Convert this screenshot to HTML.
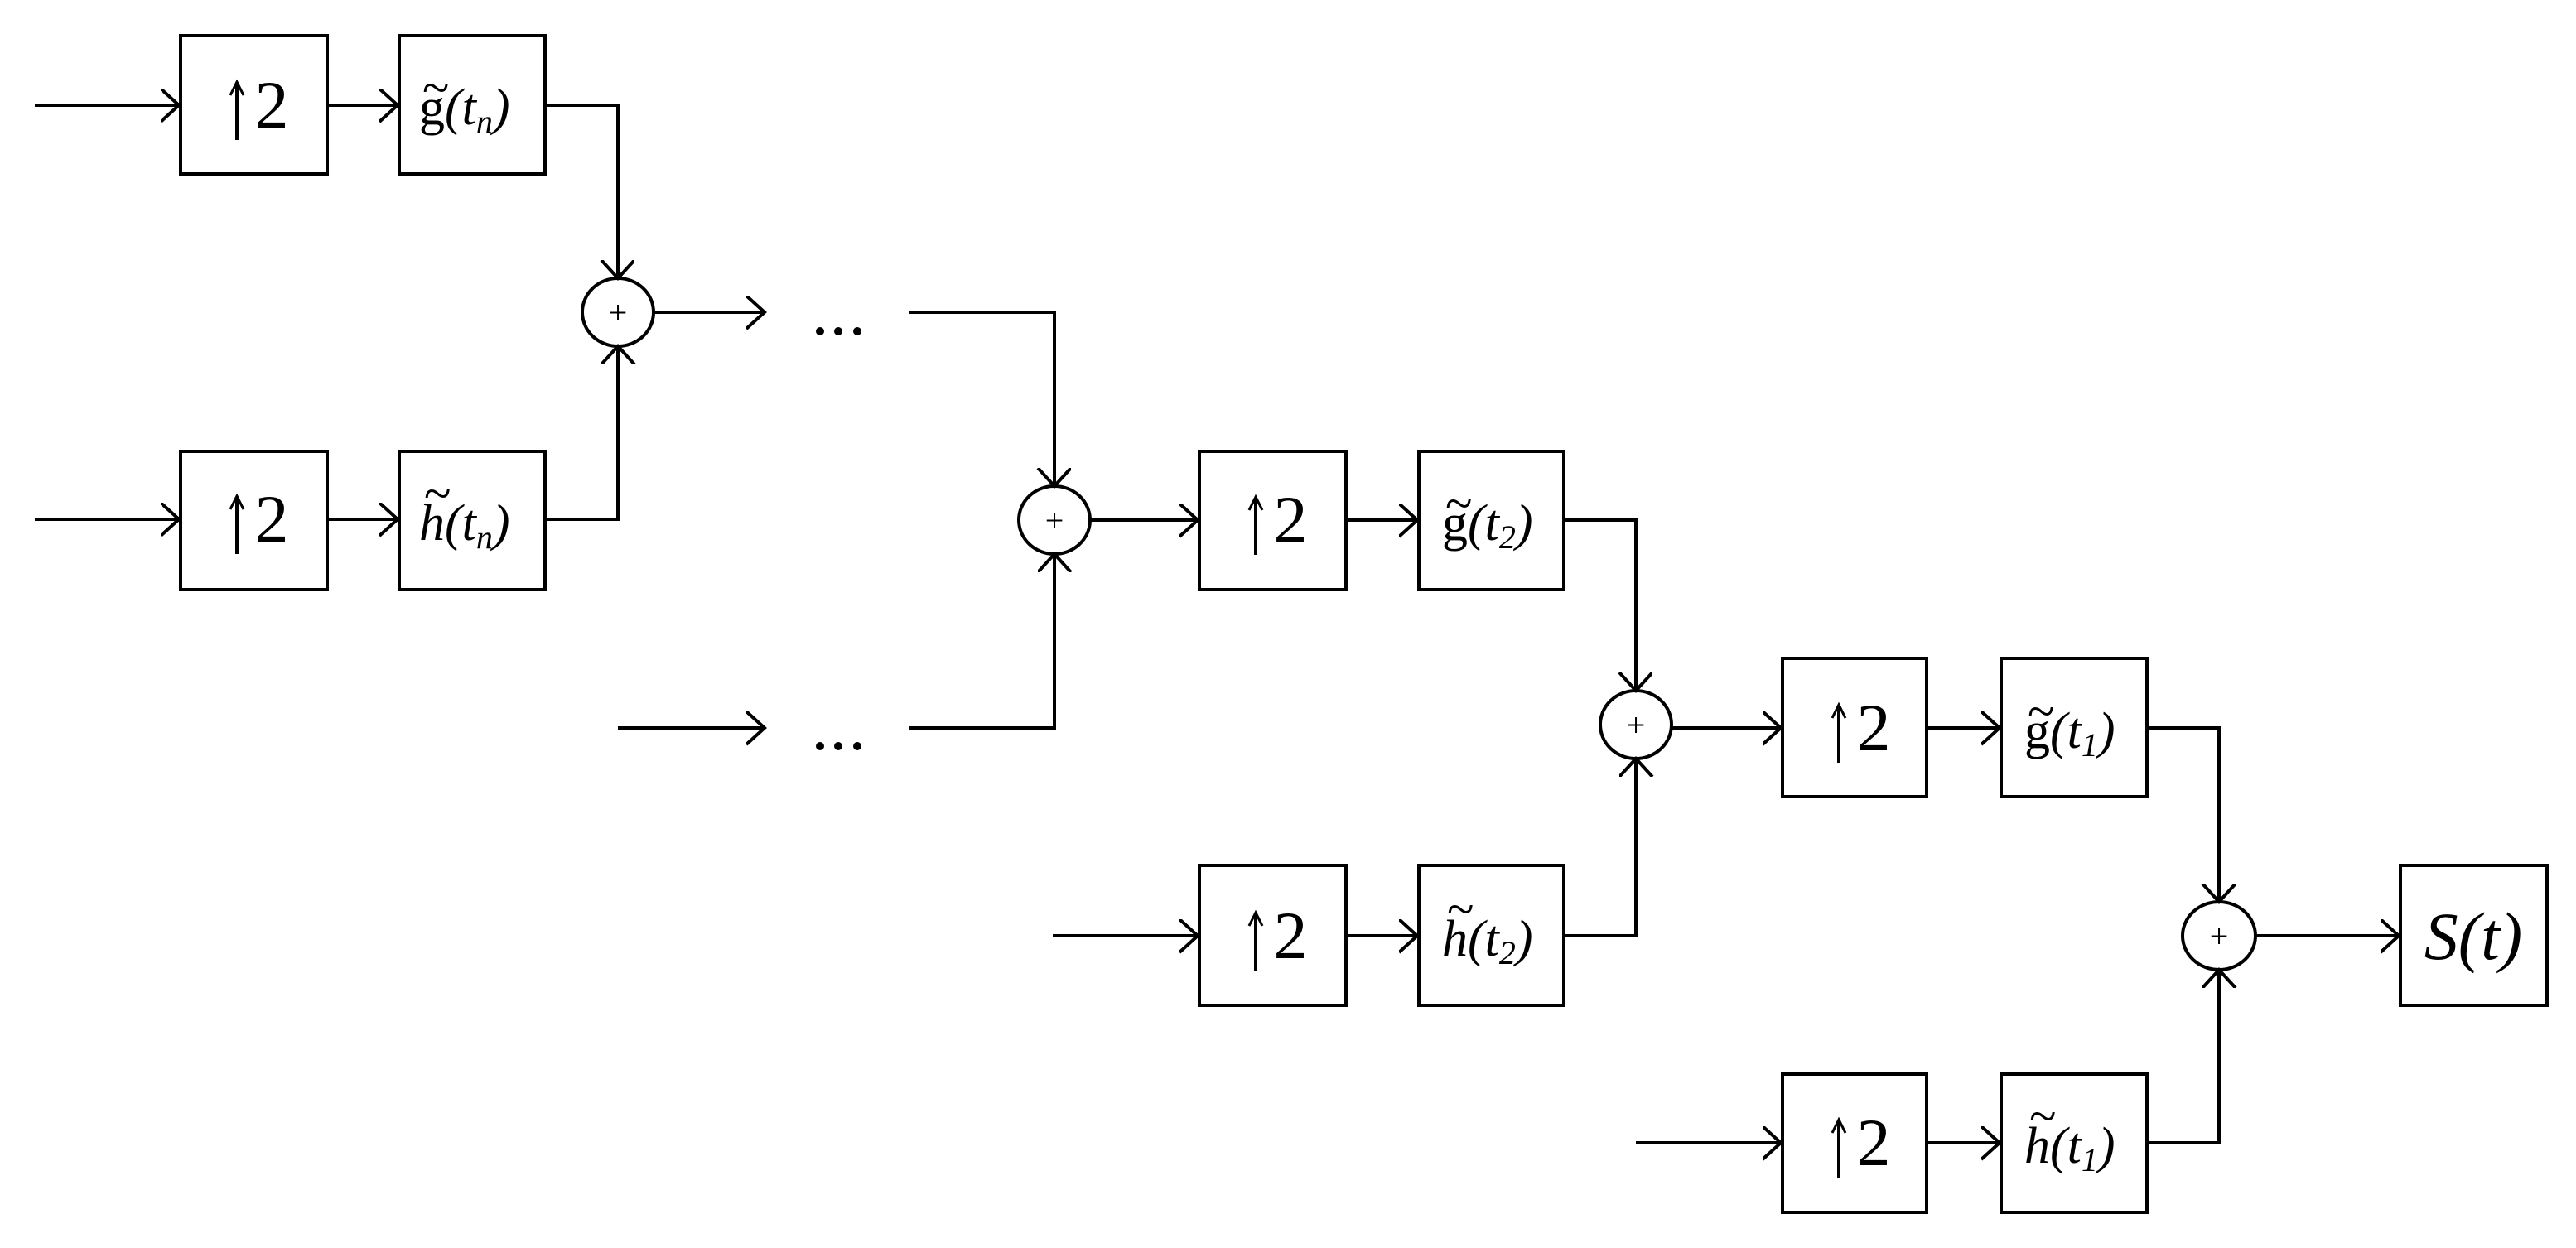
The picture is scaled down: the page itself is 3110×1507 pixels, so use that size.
<!DOCTYPE html>
<html><head><meta charset="utf-8"><style>html,body{margin:0;padding:0;background:#fff}svg{display:block}</style></head>
<body>
<svg width="3110" height="1507" viewBox="0 0 3110 1507" xmlns="http://www.w3.org/2000/svg">
<defs>
<marker id="a" markerWidth="30" markerHeight="50" refX="22" refY="20" orient="auto" markerUnits="userSpaceOnUse">
<path d="M0,0 L22,20 L0,40" fill="none" stroke="#000" stroke-width="4"/>
</marker>
<g id="up">
<line x1="68" y1="-27" x2="68" y2="42" stroke="#000" stroke-width="4"/>
<path d="M60,-12 L68,-28 L76,-12" fill="none" stroke="#000" stroke-width="3"/>
<text x="110" y="27" font-family="Liberation Serif, serif" font-size="82" text-anchor="middle" fill="#000">2</text>
</g>
</defs>
<g fill="none" stroke="#000" stroke-width="4">
<rect x="218" y="43" width="177" height="167"/>
<rect x="482" y="43" width="176" height="167"/>
<rect x="218" y="545" width="177" height="167"/>
<rect x="482" y="545" width="176" height="167"/>
<rect x="1448" y="545" width="177" height="167"/>
<rect x="1713" y="545" width="175" height="167"/>
<rect x="1448" y="1045" width="177" height="169"/>
<rect x="1713" y="1045" width="175" height="169"/>
<rect x="2152" y="795" width="174" height="167"/>
<rect x="2416" y="795" width="176" height="167"/>
<rect x="2152" y="1297" width="174" height="167"/>
<rect x="2416" y="1297" width="176" height="167"/>
<rect x="2898" y="1045" width="177" height="169"/>
<ellipse cx="746" cy="377" rx="43" ry="41"/>
<ellipse cx="1273" cy="628" rx="43" ry="41"/>
<ellipse cx="1975" cy="875" rx="43" ry="41"/>
<ellipse cx="2679" cy="1130" rx="44" ry="41"/>
</g>
<g fill="none" stroke="#000" stroke-width="4" marker-end="url(#a)">
<line x1="42" y1="127" x2="216" y2="127"/>
<line x1="395" y1="127" x2="480" y2="127"/>
<line x1="42" y1="627" x2="216" y2="627"/>
<line x1="395" y1="627" x2="480" y2="627"/>
<polyline points="658,127 746,127 746,336"/>
<polyline points="658,627 746,627 746,418"/>
<line x1="789" y1="377" x2="923" y2="377"/>
<line x1="746" y1="879" x2="923" y2="879"/>
<polyline points="1097,377 1273,377 1273,587"/>
<polyline points="1097,879 1273,879 1273,669"/>
<line x1="1316" y1="628" x2="1446" y2="628"/>
<line x1="1625" y1="628" x2="1711" y2="628"/>
<polyline points="1888,628 1975,628 1975,834"/>
<line x1="1271" y1="1130" x2="1446" y2="1130"/>
<line x1="1625" y1="1130" x2="1711" y2="1130"/>
<polyline points="1888,1130 1975,1130 1975,916"/>
<line x1="2018" y1="879" x2="2150" y2="879"/>
<line x1="2326" y1="879" x2="2414" y2="879"/>
<polyline points="2592,879 2679,879 2679,1089"/>
<line x1="1975" y1="1380" x2="2150" y2="1380"/>
<line x1="2326" y1="1380" x2="2414" y2="1380"/>
<polyline points="2592,1380 2679,1380 2679,1171"/>
<line x1="2723" y1="1130" x2="2896" y2="1130"/>
</g>
<g fill="#000">
<circle cx="990" cy="400" r="5"/><circle cx="1012" cy="400" r="5"/><circle cx="1035" cy="400" r="5"/>
<circle cx="990" cy="901" r="5"/><circle cx="1012" cy="901" r="5"/><circle cx="1035" cy="901" r="5"/>
</g>
<g font-family="Liberation Serif, serif" font-size="40" text-anchor="middle" fill="#000">
<text x="746" y="391">+</text>
<text x="1273" y="642">+</text>
<text x="1975" y="889">+</text>
<text x="2679" y="1144">+</text>
</g>
<use href="#up" x="218" y="127"/>
<use href="#up" x="218" y="627"/>
<use href="#up" x="1448" y="628"/>
<use href="#up" x="1448" y="1130"/>
<use href="#up" x="2152" y="879"/>
<use href="#up" x="2152" y="1380"/>
<g font-family="Liberation Serif, serif" font-size="62" fill="#000">
<text x="506" y="150">g<tspan font-style="italic">(t</tspan><tspan font-style="italic" font-size="40" dy="10">n</tspan><tspan font-style="italic" dy="-10">)</tspan></text>
<text x="510" y="126" font-size="60">~</text>
<text x="506" y="652" font-style="italic">h(t<tspan font-size="40" dy="10">n</tspan><tspan dy="-10">)</tspan></text>
<text x="512" y="616" font-size="60">~</text>
<text x="1741" y="652">g<tspan font-style="italic">(t</tspan><tspan font-style="italic" font-size="40" dy="10">2</tspan><tspan font-style="italic" dy="-10">)</tspan></text>
<text x="1745" y="628" font-size="60">~</text>
<text x="1741" y="1154" font-style="italic">h(t<tspan font-size="40" dy="10">2</tspan><tspan dy="-10">)</tspan></text>
<text x="1747" y="1118" font-size="60">~</text>
<text x="2444" y="903">g<tspan font-style="italic">(t</tspan><tspan font-style="italic" font-size="40" dy="10">1</tspan><tspan font-style="italic" dy="-10">)</tspan></text>
<text x="2448" y="879" font-size="60">~</text>
<text x="2444" y="1404" font-style="italic">h(t<tspan font-size="40" dy="10">1</tspan><tspan dy="-10">)</tspan></text>
<text x="2450" y="1368" font-size="60">~</text>
</g>
<text x="2986" y="1158" font-family="Liberation Serif, serif" font-size="82" font-style="italic" text-anchor="middle" fill="#000">S(t)</text>
</svg>
</body></html>
